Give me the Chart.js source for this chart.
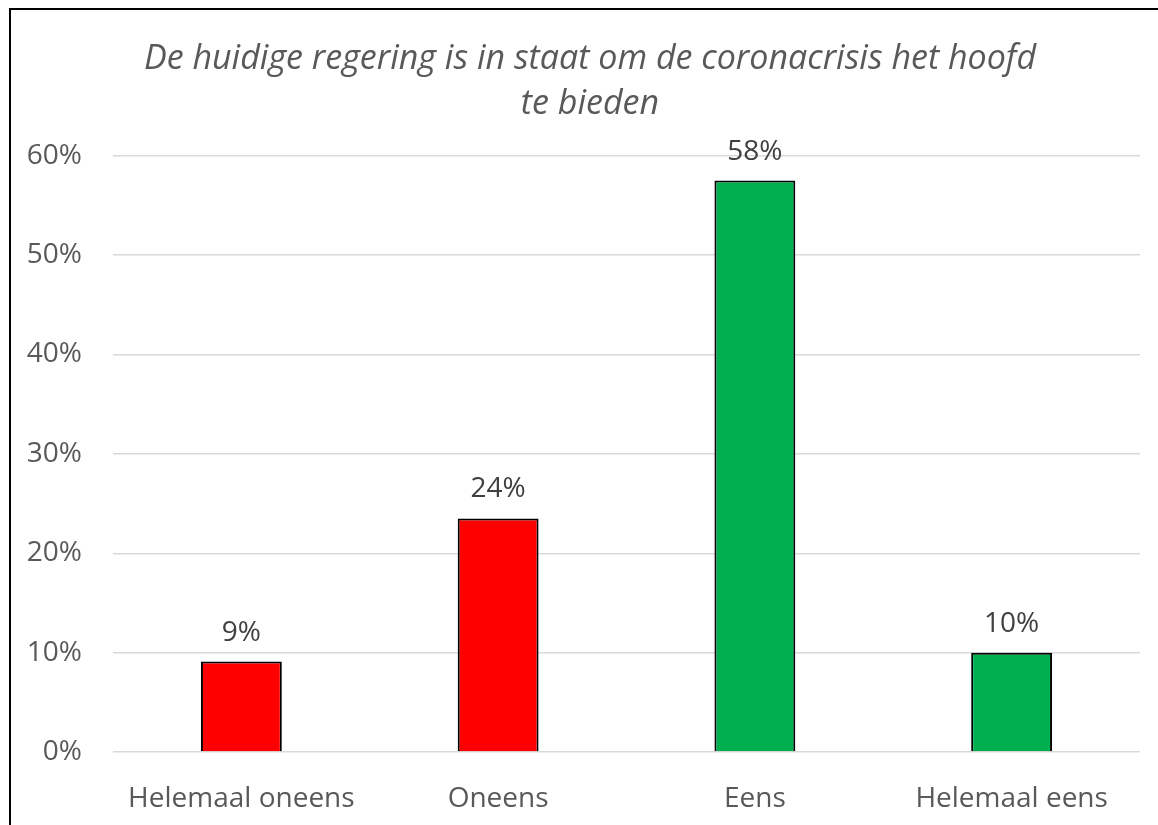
<!DOCTYPE html>
<html>
<head>
<meta charset="utf-8">
<script src="https://cdn.jsdelivr.net/npm/chart.js@4"></script>
<style>
  html, body { margin: 0; padding: 0; background: #fff; overflow: hidden; }
  #frame { position: absolute; left: 9px; top: 8px; width: 1200px; height: 900px; border: 2px solid #000; }
  #wrap { position: absolute; left: 0; top: 0; width: 1180px; height: 825px; }
</style>
</head>
<body>
<div id="frame"></div>
<div id="wrap"><canvas id="surveyChart"></canvas></div>
<script>
const categories = ['Helemaal oneens', 'Oneens', 'Eens', 'Helemaal eens'];
const shares = [0.091, 0.235, 0.575, 0.10];
const shareLabels = ['9%', '24%', '58%', '10%'];
const barColors = ['#ff0000', '#ff0000', '#00b050', '#00b050'];
const titleLines = ['De huidige regering is in staat om de coronacrisis het hoofd', 'te bieden'];

// draws the % above each bar
const valueLabels = {
  id: 'valueLabels',
  afterDatasetsDraw(chart) {
    const ctx = chart.ctx;
    const meta = chart.getDatasetMeta(0);
    ctx.save();
    ctx.font = '28px "Open Sans"';
    ctx.fillStyle = '#404040';
    ctx.textAlign = 'center';
    ctx.textBaseline = 'middle';
    meta.data.forEach((bar, i) => {
      ctx.fillText(shareLabels[i], bar.x, bar.y - 29);
    });
    ctx.restore();
  }
};

// the title sits centred on the whole frame, a bit right of the canvas box
const titleNudge = {
  id: 'titleNudge',
  afterLayout(chart) {
    if (chart.titleBlock) chart.titleBlock.left += 20;
  }
};

const ctx = document.getElementById('surveyChart').getContext('2d');
new Chart(ctx, {
  type: 'bar',
  data: {
    labels: categories,
    datasets: [{
      data: shares,
      backgroundColor: barColors,
      borderColor: '#000000',
      borderWidth: 2,
      barPercentage: 0.63,
      categoryPercentage: 0.5
    }]
  },
  options: {
    responsive: true,
    maintainAspectRatio: false,
    animation: false,
    layout: { padding: { left: 20, right: 40, top: 37, bottom: 12 } },
    plugins: {
      legend: { display: false },
      tooltip: { enabled: false },
      title: {
        display: true,
        text: titleLines,
        color: '#595959',
        font: { family: '"Open Sans"', size: 34, style: 'italic', weight: 'normal', lineHeight: 1.32 },
        padding: { top: 0, bottom: 29 }
      }
    },
    scales: {
      x: {
        grid: { display: false },
        border: { display: false },
        ticks: { color: '#595959', font: { family: '"Open Sans"', size: 28 }, padding: 22, maxRotation: 0, minRotation: 0, autoSkip: false },
        afterFit(scale) { scale.height = 61; scale.paddingLeft = 0; scale.paddingRight = 0; }
      },
      y: {
        min: 0,
        max: 0.6,
        border: { display: false },
        grid: { color: '#d9d9d9', lineWidth: 1.5, drawTicks: false },
        ticks: {
          stepSize: 0.1,
          color: '#595959',
          font: { family: '"Open Sans"', size: 28 },
          padding: 31,
          callback: v => Math.round(v * 100) + '%'
        },
        afterFit(scale) { scale.width = 93; }
      }
    }
  },
  plugins: [valueLabels, titleNudge]
});
</script>
</body>
</html>
